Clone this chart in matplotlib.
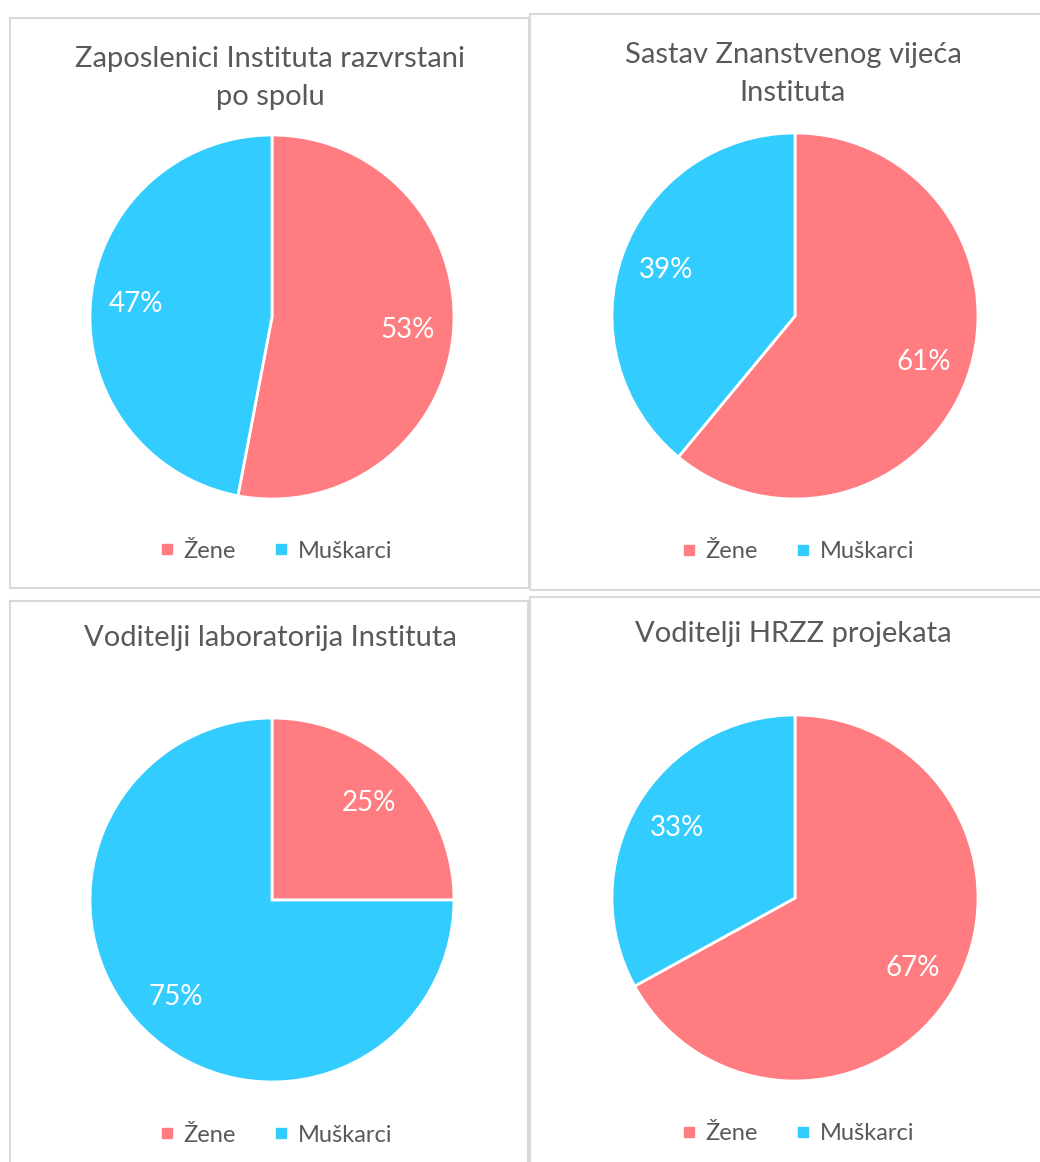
import matplotlib.pyplot as plt
from matplotlib.patches import Rectangle
from matplotlib.lines import Line2D

W, H = 1040, 1162

# podaci
categories = ['Žene', 'Muškarci']
titles = [
    'Zaposlenici Instituta razvrstani\npo spolu',
    'Sastav Znanstvenog vijeća\nInstituta',
    'Voditelji laboratorija Instituta',
    'Voditelji HRZZ projekata',
]
zene = [53, 61, 25, 67]
muskarci = [47, 39, 75, 33]

colors = ['#FF7C80', '#33CCFF']
txt_color = '#595959'

plt.rcParams['font.family'] = ['Lato', 'DejaVu Sans']

fig = plt.figure(figsize=(W / 100, H / 100), dpi=100)


def fx(x):
    return x / W


def fy(y):
    return 1 - y / H


# okviri panela (x0, y0, x1, y1) u pikselima
frames = [(10, 18, 529, 588), (530, 14, 1045, 590),
          (10, 601, 528, 1170), (530, 597, 1045, 1170)]
for x0, y0, x1, y1 in frames:
    fig.patches.append(Rectangle((fx(x0), fy(y1)), fx(x1) - fx(x0), fy(y0) - fy(y1),
                                 transform=fig.transFigure, fill=False,
                                 edgecolor='#D9D9D9', linewidth=1.5))

# središte pite, radijus, naslov (x, y), legenda (x, y)
layout = [
    ((272, 317), 182, (270, 78), (276, 551)),
    ((795, 316), 183, (793, 74), (798, 552)),
    ((272, 900), 182, (270, 638), (276, 1135)),
    ((795, 898), 183, (793, 634), (798, 1134)),
]

for i, ((cx, cy), r, (tx, ty), (lx, ly)) in enumerate(layout):
    ax = fig.add_axes([fx(cx - r), fy(cy + r), 2 * r / W, 2 * r / H])
    ax.pie([zene[i], muskarci[i]], colors=colors, startangle=90, counterclock=False,
           autopct='%1.0f%%', pctdistance=0.75,
           wedgeprops=dict(edgecolor='white', linewidth=2),
           textprops=dict(color='white', fontsize=20))
    ax.set_xlim(-1, 1)
    ax.set_ylim(-1, 1)
    ax.set_aspect('equal')
    ax.axis('off')

    fig.text(fx(tx), fy(ty), titles[i], ha='center', va='center', fontsize=21,
             color=txt_color, linespacing=1.55)

    handles = [Line2D([], [], marker='s', linestyle='', color=c, markersize=7.5) for c in colors]
    fig.legend(handles, categories, loc='center', bbox_to_anchor=(fx(lx), fy(ly)),
               ncol=2, frameon=False, fontsize=17, handlelength=0.6, handletextpad=0.4,
               columnspacing=1.6, labelcolor=txt_color)

fig.savefig('out.png', dpi=100)
